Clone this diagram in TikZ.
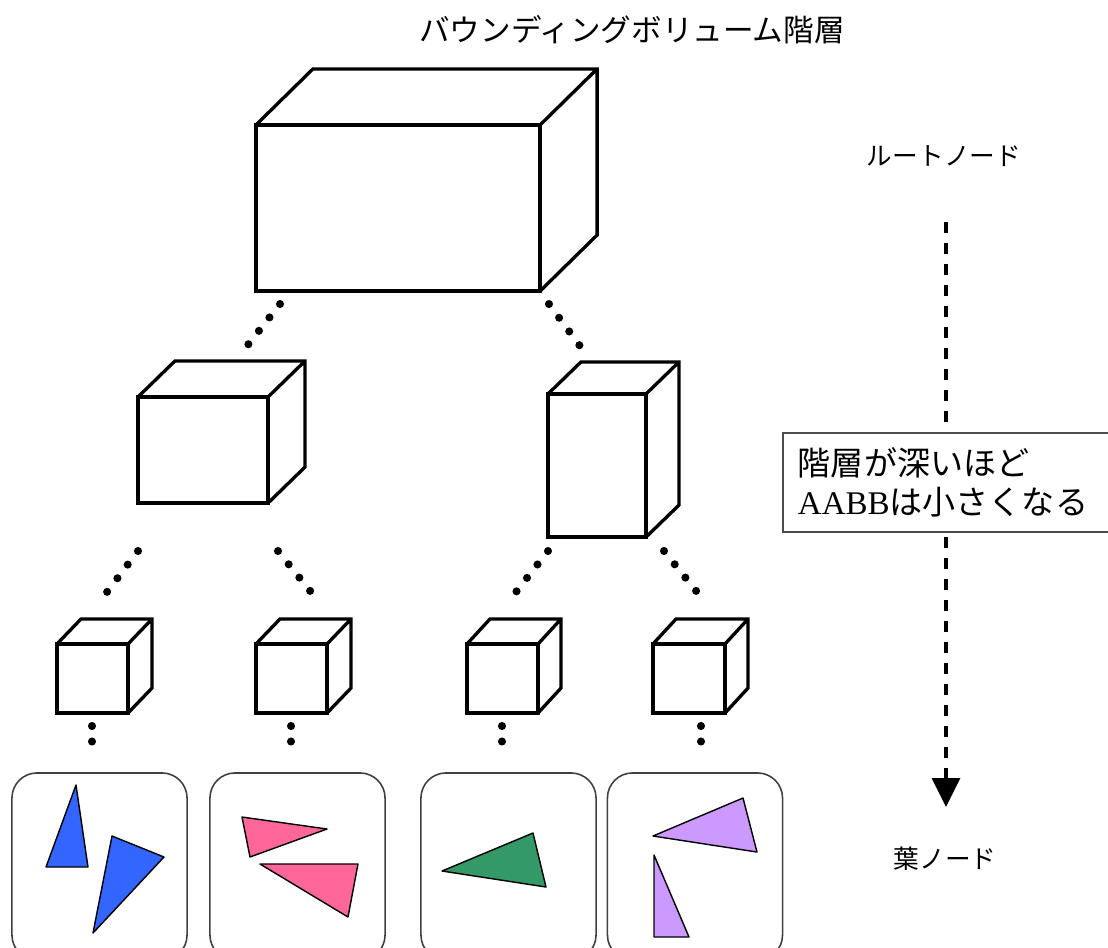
\documentclass[tikz,border=0pt]{standalone}
\usepackage{fontspec}
\setmainfont{Liberation Serif}
\newfontfamily\jp{Noto Sans CJK JP}
\usepackage{xcolor}
\definecolor{tri-blue}{HTML}{3366FF}
\definecolor{tri-pink}{HTML}{FF6699}
\definecolor{tri-green}{HTML}{339966}
\definecolor{tri-lilac}{HTML}{CC99FF}
\usetikzlibrary{calc}
\usetikzlibrary{arrows.meta}
\tikzset{aabb/.style = {draw, line width=.95pt, inner sep=0pt, outer sep=0pt, fill=white}}
\tikzset{edge/.style = {line width=.95pt}}
\tikzset{link/.style = {line width=2.3pt, line cap=round, dash pattern=on 0pt off 4.85pt}}
\tikzset{leaf/.style = {draw=black!75, line width=.45pt, rounded corners=.25cm, inner sep=0pt,
    minimum width=1.75cm, minimum height=1.87cm}}
\tikzset{tri/.style = {draw, line width=.4pt, line join=round}}
\tikzset{deeper/.style = {line width=.9pt, dash pattern=on .11cm off .1cm,
    -{Triangle[width=.28cm, length=.29cm]}}}
\tikzset{note/.style = {draw=black!70, line width=.5pt, fill=white, align=left, inner sep=0pt,
    minimum width=3.32cm, minimum height=.99cm, text width=3.02cm,
    font=\jp\fontsize{9.4}{11.1}\selectfont}}

% top and side faces behind a front face (node name, dx, dy)
\newcommand{\boxfaces}[3]{%
  \draw[edge] (#1.north west) -- ++(#2,-#3) -| ($(#1.south east)+(#2,-#3)$) -- (#1.south east)
              (#1.north east) -- ++(#2,-#3);}

\begin{document}
\begin{tikzpicture}[x=.01cm, y=-.01cm]
\clip (0,0) rectangle (1108,947);
\fill[white] (0,0) rectangle (1108,947);

\node[font=\jp\fontsize{8.7}{10}\selectfont] (title) at (632,30) {バウンディングボリューム階層};

% hierarchy of boxes
\node[aabb, minimum width=2.84cm, minimum height=1.66cm] (root) at (398,208) {};
\boxfaces{root}{57}{56}
\node[aabb, minimum width=1.30cm, minimum height=1.06cm] (midL) at (203,450) {};
\boxfaces{midL}{37}{36}
\node[aabb, minimum width=.98cm, minimum height=1.43cm] (midR) at (597,465.5) {};
\boxfaces{midR}{33}{32}
\node[aabb, minimum width=.71cm, minimum height=.69cm] (s1) at (92.5,678.5) {};
\boxfaces{s1}{24}{25}
\node[aabb, minimum width=.71cm, minimum height=.69cm] (s2) at (291.5,678.5) {};
\boxfaces{s2}{24}{25}
\node[aabb, minimum width=.71cm, minimum height=.69cm] (s3) at (502.5,678.5) {};
\boxfaces{s3}{23}{25}
\node[aabb, minimum width=.72cm, minimum height=.69cm] (s4) at (689,678.5) {};
\boxfaces{s4}{23}{25}

% dotted links
\coordinate (l1a) at (280,304); \coordinate (l1b) at (247,346);
\coordinate (l2a) at (549,304); \coordinate (l2b) at (580,346);
\coordinate (l3a) at (138,551); \coordinate (l3b) at (107,592);
\coordinate (l4a) at (278,551); \coordinate (l4b) at (311,592);
\coordinate (l5a) at (548,551); \coordinate (l5b) at (516,592);
\coordinate (l6a) at (664,551); \coordinate (l6b) at (697,592);
\draw[link] (l1a) -- (l1b);
\draw[link] (l2a) -- (l2b);
\draw[link] (l3a) -- (l3b);
\draw[link] (l4a) -- (l4b);
\draw[link] (l5a) -- (l5b);
\draw[link] (l6a) -- (l6b);
\foreach \x in {92,291,502,701}
  \draw[link, dash pattern=on 0pt off 4.4pt] (\x,726) -- (\x,742);

% leaf nodes
\node[leaf] (leaf1) at (99.5,866.5) {};
\node[leaf] (leaf2) at (297.5,866.5) {};
\node[leaf] (leaf3) at (508.5,866.5) {};
\node[leaf] (leaf4) at (695,866.5) {};

\filldraw[tri, fill=tri-blue] (76,785) -- (46,867) -- (88,867) -- cycle;
\filldraw[tri, fill=tri-blue] (112,836) -- (164,857) -- (93,933) -- cycle;
\filldraw[tri, fill=tri-pink] (242,817) -- (327,829) -- (250,857) -- cycle;
\filldraw[tri, fill=tri-pink] (260,864) -- (358,864) -- (348,917) -- cycle;
\filldraw[tri, fill=tri-green] (442,871) -- (533,833) -- (546,887) -- cycle;
\filldraw[tri, fill=tri-lilac] (653,836) -- (743,798) -- (757,852) -- cycle;
\filldraw[tri, fill=tri-lilac] (654,855) -- (654,937) -- (689,937) -- cycle;

% depth arrow
\node[font=\jp\fontsize{7.3}{9}\selectfont] (rootlbl) at (944,156) {ルートノード};
\node[font=\jp\fontsize{7.3}{9}\selectfont] (leaflbl) at (945,859) {葉ノード};
\coordinate (depthtop) at (946,222);
\coordinate (depthbot) at (946,807);
\draw[deeper] (depthtop) -- (depthbot);

\node[note] (msg) at (949,482.5) {階層が深いほど\\{\rmfamily AABB}は小さくなる};

\end{tikzpicture}
\end{document}
